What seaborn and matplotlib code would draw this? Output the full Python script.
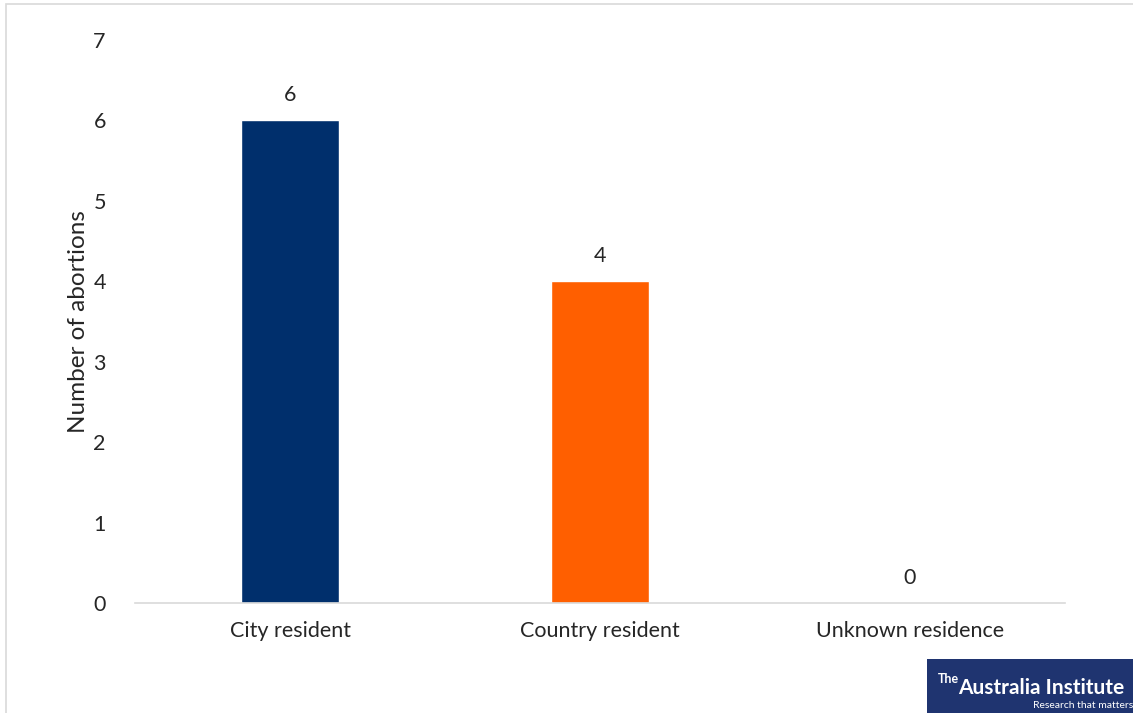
import matplotlib
matplotlib.use("Agg")
import matplotlib.pyplot as plt
import seaborn as sns
import pandas as pd
from matplotlib.patches import Rectangle

categories = ["City resident", "Country resident", "Unknown residence"]
values = [6, 4, 0]
colors = ["#002F6C", "#FF5F00", "#A5A5A5"]
yticks = [0, 1, 2, 3, 4, 5, 6, 7]

sns.set_theme(style="white")
plt.rcParams['font.family'] = ['Lato', 'DejaVu Sans']

df = pd.DataFrame({"cat": categories, "val": values})

fig = plt.figure(figsize=(11.33, 7.13), dpi=100)
ax = fig.add_axes([135/1133, 110/713, 930/1133, 563/713])
sns.barplot(data=df, x="cat", y="val", hue="cat", palette=colors, width=0.316,
            legend=False, ax=ax, saturation=1)
ax.set_xlim(-0.5, 2.5)
ax.set_ylim(0, 7)
ax.set_yticks(yticks)
ax.set_yticklabels([str(t) for t in yticks], fontsize=15.5)
ax.tick_params(axis='x', labelsize=15.5, length=0, pad=13)
ax.tick_params(axis='y', length=0, pad=21)
ax.set_xlabel("")
ax.set_ylabel("Number of abortions", fontsize=17.5, labelpad=3)
for s in ["top", "right", "left"]:
    ax.spines[s].set_visible(False)
ax.spines["bottom"].set_color("#D9D9D9")
ax.spines["bottom"].set_linewidth(1.2)
for i, v in enumerate(values):
    ax.text(i, v + 0.19, str(v), ha="center", va="bottom", fontsize=15.5)

# outer border
fig.patches.append(Rectangle((6/1133, -0.01), 1.1, (713-4)/713 + 0.01, transform=fig.transFigure,
                             fill=False, edgecolor="#D9D9D9", linewidth=1.2))

# logo
fig.patches.append(Rectangle((927/1133, 0), (1133-927)/1133, 54/713, transform=fig.transFigure,
                             facecolor="#1F3470", edgecolor="none"))
fig.text(938/1133, 28/713, "The", color="white", fontsize=9, ha="left", va="bottom",
         fontweight="bold")
fig.text(958/1133, 25/713, "Australia Institute", color="white", fontsize=15, ha="left",
         va="center", fontweight="bold")
fig.text(1133/1133, 3/713, "Research that matters", color="white", fontsize=7.5, ha="right",
         va="bottom")

fig.savefig("out.png", dpi=100)
